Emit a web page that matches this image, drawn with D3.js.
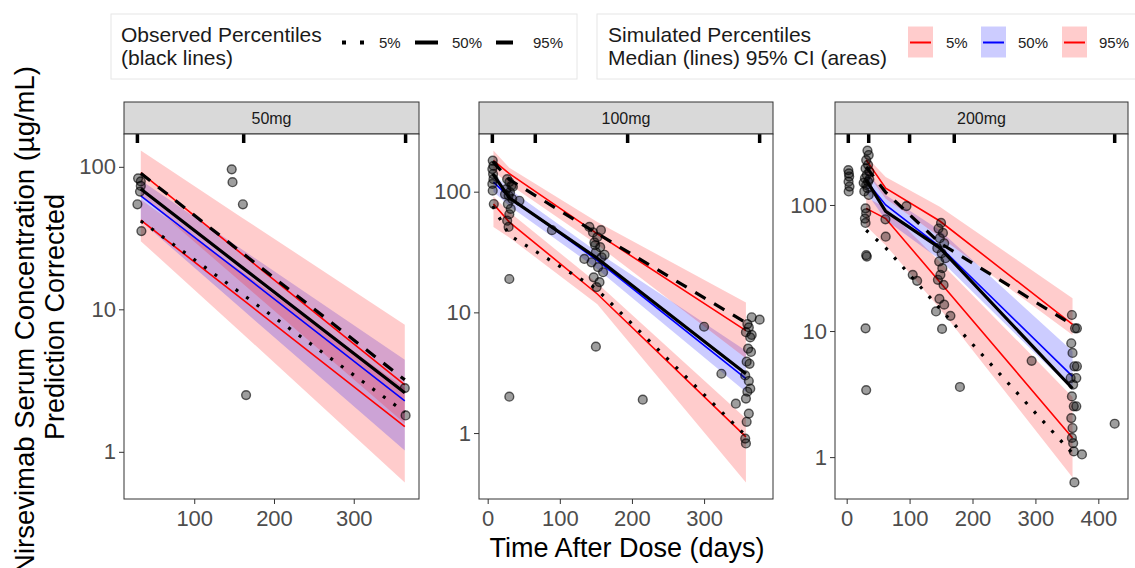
<!DOCTYPE html>
<html>
<head>
<meta charset="utf-8">
<script src="https://cdn.jsdelivr.net/npm/d3@7"></script>
<style>
  body { margin: 0; background: #fff; }
  svg { display: block; font-family: "Liberation Sans", Arial, sans-serif; }
</style>
</head>
<body>
<svg id="chart" width="1135" height="568"></svg>
<script>
// ---- data (one row per dose panel) ----
var panels = ["50mg", "100mg", "200mg"];
var binEdges = [[28.75, 162, 365], [6.5, 66, 194, 377], [2.6, 35, 100, 171, 426]];
var xTicks = [[100, 200, 300], [0, 100, 200, 300], [0, 100, 200, 300, 400]];
var yTicks = [1, 10, 100];

// simulated percentiles: median line + 95% CI
var simTime = [[33, 160, 364], [8, 30, 152, 358], [31, 62, 148, 359]];
var sim05Lo  = [[30.1, 6.8, 0.61], [51, 41.7, 11.7, 0.39], [68, 48, 15.1, 0.69]];
var sim05Med = [[42.2, 11.8, 1.5], [79, 56, 14.2, 0.93], [94, 78, 24.5, 1.42]];
var sim05Hi  = [[59, 18.3, 2.8], [91, 68, 17.4, 1.32], [115, 95, 35.5, 3.0]];
var sim50Lo  = [[41.7, 10, 1.02], [100, 76, 22.9, 2.19], [126, 76, 37, 3.4]];
var sim50Med = [[62.5, 17.7, 2.28], [120, 90, 26.9, 2.82], [155, 100, 46.8, 4.37]];
var sim50Hi  = [[80.5, 26.3, 4.43], [141, 105, 31.6, 4.8], [186, 120, 63, 6.9]];
var sim95Lo  = [[63, 15.3, 1.58], [148, 115, 36.3, 4.17], [182, 112, 56, 9.3]];
var sim95Med = [[91, 24.4, 2.95], [181, 141, 44.7, 7.06], [228, 136, 74.6, 11.3]];
var sim95Hi  = [[130, 44, 7.8], [219, 158, 56, 12.1], [242, 167, 97, 18.2]];

// observed percentiles (black lines)
var obsTime = [[33, 160, 364], [7, 30, 150, 358], [31, 62, 148, 359]];
var obs05 = [[41.7, 12.8, 1.9], [76, 43.6, 15.8, 0.95], [63, 45.7, 15.1, 1.07]];
var obs50 = [[70, 19.7, 2.6], [141, 89, 28.6, 3.1], [158, 89, 45.7, 3.5]];
var obs95 = [[90, 24.9, 3.2], [178, 126, 45.7, 8.2], [200, 126, 50, 11.2]];

// observed concentrations [day, ug/mL]
var obsPoints = [
  [[29.6, 83], [33, 79], [33, 73.5], [32, 67], [28.75, 54.6], [33.75, 35.4], [147, 96], [148, 78],
   [161, 54.6], [165, 2.5], [364, 2.8], [365, 1.8]],
  [[7, 181], [8, 164], [6.5, 154], [7.5, 140], [8, 127], [6.5, 116], [7, 102], [8.5, 79],
   [27, 127], [30, 120], [33, 112], [26, 105], [31, 99], [29, 93], [34, 87], [28, 79], [32, 72],
   [30, 65], [27, 57.5], [29, 51], [30, 18.9], [30, 2.0], [44, 84], [89, 48], [35, 110], [24, 95],
   [141, 51], [146, 46], [152, 42], [148, 38], [156, 34.7], [150, 31.5], [158, 28.6], [144, 26],
   [153, 23.7], [160, 21.5], [147, 19.5], [155, 17.8], [151, 16.2], [162, 30], [134, 27.7],
   [150, 5.2], [157, 48], [149, 36],
   [300, 7.6], [324, 3.1], [215, 1.89], [377, 8.7], [344, 1.75],
   [360, 8.0], [362, 7.5], [358, 6.85], [364, 6.2], [361, 5.0], [365, 4.7], [359, 3.9], [363, 3.75],
   [357, 3.0], [362, 2.7], [364, 2.33], [360, 2.2], [358, 1.93], [362, 1.45], [359, 1.24],
   [357, 0.9], [358, 0.82], [366, 9.1], [366, 6.5]],
  [[2.6, 189], [3.5, 178], [4, 168], [3, 153], [4.5, 140], [3.2, 128],
   [33, 270], [35, 249], [31, 227], [34, 208], [30, 195], [36, 184], [32, 173], [29, 163], [34, 153],
   [31, 144], [33, 136], [28, 128], [35, 120], [30, 94], [31, 86], [29, 78], [30, 72], [31, 40],
   [32, 39], [30, 10.5], [31, 3.4], [36, 160], [27, 150],
   [61.6, 77], [62, 56], [95, 98], [105, 27.9], [112, 25],
   [150, 72], [146, 65], [153, 60], [148, 54.5], [155, 49.7], [144, 45.4], [151, 41.4], [157, 37.8],
   [147, 35.6], [152, 31.5], [149, 27.9], [145, 25.5], [154, 23.2], [147.4, 18], [142, 14.3],
   [155, 16.2], [151.6, 10.4], [164.9, 13.2],
   [180, 3.6], [294, 5.8], [426, 1.84], [374, 1.05], [362, 0.63],
   [358, 13.4], [363, 10.5], [357, 8.0], [359, 6.7], [362, 5.25], [356, 4.24], [360, 3.76],
   [358, 3.03], [361, 2.53], [357, 2.04], [359, 1.7], [358, 1.42], [360, 1.29], [361, 1.11],
   [366, 10.5], [366, 5.25], [365, 4.24], [365, 2.53]]
];

// ---- layout ----
var svg = d3.select("#chart");
var panelLeft = [124, 479, 835], panelRight = [419, 773, 1128];
var stripTop = 102, panelTop = 134, panelBottom = 499;
var grey20 = "#333333", grey30 = "#4d4d4d";

/* ggplot-like 5% expansion */
function expand(lo, hi) { var d = (hi - lo) * 0.05; return [lo - d, hi + d]; }

panels.forEach(function(name, i) {
  var x0 = panelLeft[i], x1 = panelRight[i];

  var times = obsPoints[i].map(function(p) { return p[0]; }).concat(binEdges[i], simTime[i]);
  var vals = obsPoints[i].map(function(p) { return p[1]; })
    .concat(sim05Lo[i], sim95Hi[i], obs05[i], obs95[i]);
  var xd = expand(d3.min(times), d3.max(times));
  var ld = expand(Math.log10(d3.min(vals)), Math.log10(d3.max(vals)));

  var x = d3.scaleLinear().domain(xd).range([x0, x1]);
  var y = d3.scaleLog().domain([Math.pow(10, ld[0]), Math.pow(10, ld[1])]).range([panelBottom, panelTop]);

  var g = svg.append("g").attr("class", "panel");

  // strip
  g.append("rect").attr("x", x0).attr("y", stripTop).attr("width", x1 - x0).attr("height", panelTop - stripTop)
    .attr("fill", "#d9d9d9").attr("stroke", grey20).attr("stroke-width", 1);
  g.append("text").attr("x", (x0 + x1) / 2).attr("y", (stripTop + panelTop) / 2 + 6)
    .attr("text-anchor", "middle").attr("font-size", 16).attr("fill", "#1a1a1a").text(name);

  g.append("rect").attr("x", x0).attr("y", panelTop).attr("width", x1 - x0).attr("height", panelBottom - panelTop)
    .attr("fill", "#fff");

  // CI ribbons
  var ribbons = [[sim05Lo[i], sim05Hi[i], "red"], [sim50Lo[i], sim50Hi[i], "blue"], [sim95Lo[i], sim95Hi[i], "red"]];
  ribbons.forEach(function(r) {
    var area = d3.area()
      .x(function(d, k) { return x(simTime[i][k]); })
      .y0(function(d, k) { return y(r[0][k]); })
      .y1(function(d, k) { return y(r[1][k]); });
    g.append("path").attr("d", area(r[0])).attr("fill", r[2]).attr("fill-opacity", 0.2);
  });

  // simulated median lines
  var simLine = d3.line().x(function(d, k) { return x(simTime[i][k]); }).y(function(d) { return y(d); });
  [[sim05Med[i], "red"], [sim50Med[i], "blue"], [sim95Med[i], "red"]].forEach(function(s) {
    g.append("path").attr("d", simLine(s[0])).attr("fill", "none").attr("stroke", s[1]).attr("stroke-width", 1.6);
  });

  // observations
  g.append("g").selectAll("circle").data(obsPoints[i]).enter().append("circle")
    .attr("cx", function(d) { return x(d[0]); })
    .attr("cy", function(d) { return y(d[1]); })
    .attr("r", 4.4)
    .attr("fill", "#000").attr("fill-opacity", 0.38)
    .attr("stroke", "#000").attr("stroke-opacity", 0.62).attr("stroke-width", 1.4);

  // observed percentile lines
  var obsLine = d3.line().x(function(d, k) { return x(obsTime[i][k]); }).y(function(d) { return y(d); });
  [[obs05[i], "3,10"], [obs50[i], null], [obs95[i], "12,10"]].forEach(function(o) {
    g.append("path").attr("d", obsLine(o[0])).attr("fill", "none").attr("stroke", "#000")
      .attr("stroke-width", 3.2).attr("stroke-dasharray", o[1]);
  });

  // bin separators along the top
  g.append("g").selectAll("line").data(binEdges[i]).enter().append("line")
    .attr("x1", function(d) { return x(d); }).attr("x2", function(d) { return x(d); })
    .attr("y1", panelTop).attr("y2", panelTop + 9)
    .attr("stroke", "#000").attr("stroke-width", 3.5);

  g.append("rect").attr("x", x0).attr("y", panelTop).attr("width", x1 - x0).attr("height", panelBottom - panelTop)
    .attr("fill", "none").attr("stroke", grey20).attr("stroke-width", 1);

  // axes
  var yAxis = d3.axisLeft(y).tickValues(yTicks).tickFormat(d3.format("d")).tickSize(5).tickPadding(3);
  g.append("g").attr("transform", "translate(" + x0 + ",0)").call(yAxis)
    .attr("font-size", 22).attr("font-family", null)
    .call(function(a) {
      a.select(".domain").remove();
      a.selectAll("line").attr("stroke", grey20);
      a.selectAll("text").attr("fill", grey30);
    });

  var xAxis = d3.axisBottom(x).tickValues(xTicks[i]).tickFormat(d3.format("d")).tickSize(5).tickPadding(6);
  g.append("g").attr("transform", "translate(0," + panelBottom + ")").call(xAxis)
    .attr("font-size", 22).attr("font-family", null)
    .call(function(a) {
      a.select(".domain").remove();
      a.selectAll("line").attr("stroke", grey20);
      a.selectAll("text").attr("fill", grey30);
    });
});

// axis titles
svg.append("text").attr("x", 627).attr("y", 557).attr("text-anchor", "middle")
  .attr("font-size", 27).attr("fill", "#000").text("Time After Dose (days)");
svg.append("text").attr("transform", "translate(34,320) rotate(-90)").attr("text-anchor", "middle")
  .attr("font-size", 27.5).attr("fill", "#000").text("Nirsevimab Serum Concentration (\u00b5g/mL)");
svg.append("text").attr("transform", "translate(64,317) rotate(-90)").attr("text-anchor", "middle")
  .attr("font-size", 27).attr("fill", "#000").text("Prediction Corrected");

// ---- legends ----
var leg = svg.append("g");
leg.append("rect").attr("x", 111).attr("y", 14).attr("width", 466).attr("height", 65)
  .attr("fill", "#fff").attr("stroke", "#e6e6e6");
leg.append("rect").attr("x", 597).attr("y", 14).attr("width", 560).attr("height", 65)
  .attr("fill", "#fff").attr("stroke", "#e6e6e6");

leg.append("text").attr("x", 121).attr("y", 42).attr("font-size", 21).attr("fill", "#1a1a1a").text("Observed Percentiles");
leg.append("text").attr("x", 121).attr("y", 65).attr("font-size", 21).attr("fill", "#1a1a1a").text("(black lines)");
leg.append("text").attr("x", 608).attr("y", 42).attr("font-size", 21).attr("fill", "#1a1a1a").text("Simulated Percentiles");
leg.append("text").attr("x", 608).attr("y", 65).attr("font-size", 21).attr("fill", "#1a1a1a").text("Median (lines) 95% CI (areas)");

var pctLabels = ["5%", "50%", "95%"];

// observed keys
var obsKeyX = [342, 415, 493], obsKeyDash = ["4,14", null, "0,3,17,3"], obsLabX = [379, 452, 533];
pctLabels.forEach(function(lab, k) {
  leg.append("line").attr("x1", obsKeyX[k]).attr("x2", obsKeyX[k] + 23).attr("y1", 42.5).attr("y2", 42.5)
    .attr("stroke", "#000").attr("stroke-width", 4).attr("stroke-dasharray", obsKeyDash[k]);
  leg.append("text").attr("x", obsLabX[k]).attr("y", 48).attr("font-size", 15).attr("fill", "#222").text(lab);
});

// simulated keys
var simKeyX = [908, 981, 1062], simKeyCol = ["red", "blue", "red"], simLabX = [946, 1018, 1099];
pctLabels.forEach(function(lab, k) {
  leg.append("rect").attr("x", simKeyX[k]).attr("y", 26.5).attr("width", 25).attr("height", 31)
    .attr("fill", simKeyCol[k]).attr("fill-opacity", 0.2);
  leg.append("line").attr("x1", simKeyX[k] + 2).attr("x2", simKeyX[k] + 23).attr("y1", 42.5).attr("y2", 42.5)
    .attr("stroke", simKeyCol[k]).attr("stroke-width", 2);
  leg.append("text").attr("x", simLabX[k]).attr("y", 48).attr("font-size", 15).attr("fill", "#222").text(lab);
});
</script>
</body>
</html>
